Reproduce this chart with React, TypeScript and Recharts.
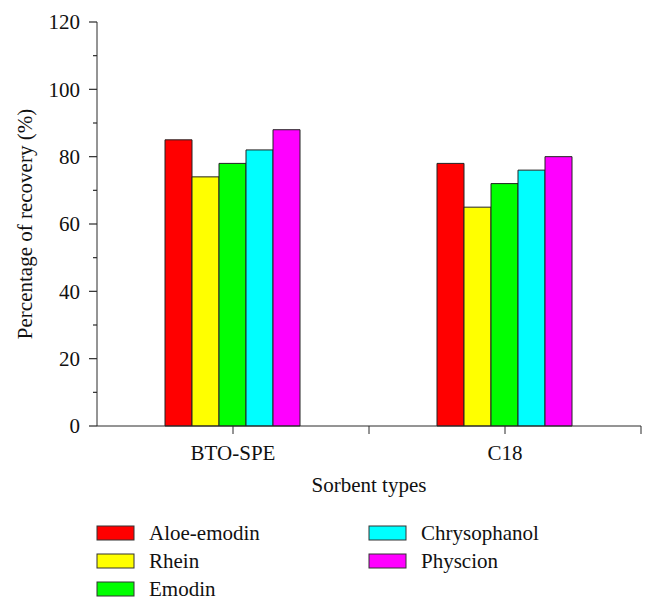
import { BarChart, Bar, XAxis, YAxis, Legend } from 'recharts'

const categories = ['BTO-SPE', 'C18']
const categoryPositions = [1, 2]
const seriesNames = ['Aloe-emodin', 'Rhein', 'Emodin', 'Chrysophanol', 'Physcion']
const seriesColors = ['#ff0000', '#ffff00', '#00ff00', '#00ffff', '#ff00ff']

const aloeEmodin = [85, 78]
const rhein = [74, 65]
const emodin = [78, 72]
const chrysophanol = [82, 76]
const physcion = [88, 80]

const yTicks = [0, 10, 20, 30, 40, 50, 60, 70, 80, 90, 100, 110, 120]
const xTicks = [1, 1.5, 2, 2.5]

const seriesValues = [aloeEmodin, rhein, emodin, chrysophanol, physcion]

const data = categories.map((name, i) => {
  const row: any = { name, pos: categoryPositions[i] }
  seriesNames.forEach((s, j) => {
    row[s] = seriesValues[j][i]
  })
  return row
})

const AXIS = '#2b2b2b'

function YTick(props: any) {
  const { x, y, payload } = props
  const major = payload.value % 20 === 0
  return (
    <g>
      <line x1={x - (major ? 8 : 4)} x2={x} y1={y} y2={y} stroke={AXIS} strokeWidth={1.2} />
      {major && (
        <text x={x - 17} y={y} dy="0.35em" textAnchor="end" fontSize={21} fill="#111">
          {payload.value}
        </text>
      )}
    </g>
  )
}

// legend keeps the series order (recharts would sort it by name), 3 rows per column
function LegendBox() {
  return (
    <svg width={647} height={84} style={{ display: 'block' }}>
      {seriesNames.map((name, j) => {
        const col = Math.floor(j / 3)
        const row = j % 3
        const x = 89 + col * 272
        const y = row * 28 + 14
        return (
          <g key={name}>
            <rect x={x} y={y - 7} width={37} height={14} fill={seriesColors[j]} stroke="#333" strokeWidth={1} />
            <text x={x + 52} y={y} dy="0.35em" fontSize={21} fill="#111">
              {name}
            </text>
          </g>
        )
      })}
    </svg>
  )
}

export default function App() {
  return (
    <div>
      <style>{`svg text { font-family: 'Liberation Serif', serif !important; }`}</style>
      <BarChart
        width={647}
        height={600}
        data={data}
        margin={{ top: 14, right: 14, bottom: 5, left: 0 }}
        barCategoryGap="25%"
        barGap={0}
      >
        <XAxis xAxisId="cat" dataKey="name" hide height={0} />
        <XAxis
          xAxisId="num"
          dataKey="pos"
          type="number"
          domain={[0.5, 2.5]}
          allowDataOverflow
          ticks={xTicks}
          tickFormatter={(v: number) => (Number.isInteger(v) ? categories[v - 1] : '')}
          height={93}
          tickSize={8}
          tickMargin={11}
          stroke={AXIS}
          tick={{ fill: '#111', fontSize: 21 }}
          label={{
            value: 'Sorbent types',
            position: 'insideBottom',
            offset: 27,
            fill: '#111',
            fontSize: 21
          }}
        />
        <YAxis
          domain={[0, 120]}
          ticks={yTicks}
          interval={0}
          width={89}
          tickSize={0}
          tickMargin={0}
          tickLine={false}
          stroke={AXIS}
          tick={<YTick />}
          label={{
            value: 'Percentage of recovery (%)',
            angle: -90,
            position: 'center',
            dx: -28,
            fill: '#111',
            fontSize: 21
          }}
        />
        <Legend verticalAlign="bottom" wrapperStyle={{ left: 0, width: 647 }} content={<LegendBox />} />
        {seriesNames.map((s, j) => (
          <Bar
            key={s}
            xAxisId="cat"
            dataKey={s}
            fill={seriesColors[j]}
            stroke="#222"
            strokeWidth={1}
            isAnimationActive={false}
          />
        ))}
      </BarChart>
    </div>
  )
}
